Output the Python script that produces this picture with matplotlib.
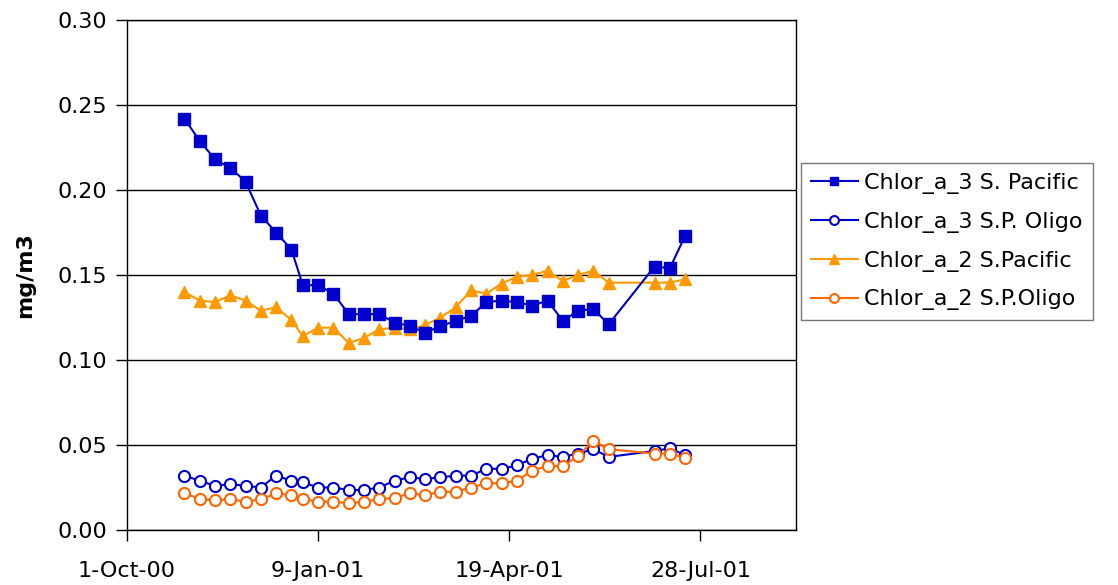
import numpy as np
import matplotlib
matplotlib.use("Agg")
import matplotlib.pyplot as plt
from datetime import datetime

# 8-day composite start dates
dates = ["2000-10-31", "2000-11-08", "2000-11-16", "2000-11-24", "2000-12-02",
         "2000-12-10", "2000-12-18", "2000-12-26", "2001-01-01", "2001-01-09",
         "2001-01-17", "2001-01-25", "2001-02-02", "2001-02-10", "2001-02-18",
         "2001-02-26", "2001-03-06", "2001-03-14", "2001-03-22", "2001-03-30",
         "2001-04-07", "2001-04-15", "2001-04-23", "2001-05-01", "2001-05-09",
         "2001-05-17", "2001-05-25", "2001-06-02", "2001-06-10", "2001-07-04",
         "2001-07-12", "2001-07-20"]

chl3_sp = [0.242, 0.229, 0.218, 0.213, 0.205, 0.185, 0.175, 0.165, 0.144, 0.144,
           0.139, 0.127, 0.127, 0.127, 0.122, 0.120, 0.116, 0.120, 0.123, 0.126,
           0.134, 0.135, 0.134, 0.132, 0.135, 0.123, 0.129, 0.130, 0.121, 0.155,
           0.154, 0.173]
chl3_oligo = [0.032, 0.029, 0.026, 0.027, 0.026, 0.025, 0.032, 0.029, 0.028, 0.025,
              0.025, 0.0235, 0.0235, 0.025, 0.029, 0.031, 0.030, 0.031, 0.032, 0.032,
              0.036, 0.036, 0.038, 0.042, 0.044, 0.043, 0.045, 0.0475, 0.043, 0.0465,
              0.048, 0.044]
chl2_sp = [0.140, 0.135, 0.134, 0.138, 0.135, 0.129, 0.131, 0.1235, 0.114, 0.119,
           0.119, 0.110, 0.113, 0.118, 0.119, 0.118, 0.1205, 0.125, 0.131, 0.141,
           0.139, 0.145, 0.149, 0.150, 0.1525, 0.1465, 0.150, 0.1525, 0.1455, 0.1455,
           0.1455, 0.1475]
chl2_oligo = [0.0215, 0.0185, 0.0175, 0.018, 0.0167, 0.018, 0.0215, 0.0205, 0.018, 0.0167,
              0.0167, 0.0157, 0.0167, 0.018, 0.019, 0.0215, 0.0205, 0.0225, 0.0225, 0.025,
              0.0275, 0.0275, 0.029, 0.035, 0.0376, 0.0376, 0.0435, 0.0525, 0.0475, 0.045,
              0.045, 0.0425]

tick_dates = ["2000-10-01", "2001-01-09", "2001-04-19", "2001-07-28"]
tick_labels = ["1-Oct-00", "9-Jan-01", "19-Apr-01", "28-Jul-01"]

x = [datetime.strptime(d, "%Y-%m-%d") for d in dates]
xt = [datetime.strptime(d, "%Y-%m-%d") for d in tick_dates]

plt.rcParams['font.family'] = ['DejaVu Sans']

fig = plt.figure(figsize=(11.18, 5.85), dpi=100)
ax = fig.add_axes([127/1118, 1 - 530/585, (796 - 127)/1118, (530 - 20)/585])

blue = "#0000CC"
amber = "#FF9900"
orange = "#FF6600"

ax.plot(x, chl3_sp, color=blue, lw=1.5, marker='s', ms=8, mfc=blue, mec=blue,
        label="Chlor_a_3 S. Pacific", zorder=4)
ax.plot(x, chl3_oligo, color=blue, lw=1.5, marker='o', ms=8, mfc='white', mec=blue,
        mew=1.5, label="Chlor_a_3 S.P. Oligo", zorder=3)
ax.plot(x, chl2_sp, color=amber, lw=1.5, marker='^', ms=9, mfc=amber, mec=amber,
        label="Chlor_a_2 S.Pacific", zorder=3)
ax.plot(x, chl2_oligo, color=orange, lw=1.5, marker='o', ms=8, mfc='white', mec=orange,
        mew=1.5, label="Chlor_a_2 S.P.Oligo", zorder=3)

ax.set_xlim(datetime(2000, 10, 1), datetime(2001, 9, 16))
ax.set_ylim(0, 0.30)
ax.set_yticks(np.arange(0, 0.301, 0.05))
ax.set_yticklabels(["%.2f" % v for v in np.arange(0, 0.301, 0.05)])
ax.set_xticks(xt)
ax.set_xticklabels(tick_labels)
ax.yaxis.grid(True, color='black', lw=1)
ax.set_axisbelow(True)
ax.tick_params(axis='both', labelsize=16, length=8, width=1, direction='out')
ax.tick_params(axis='y', pad=6)
ax.tick_params(axis='x', pad=14)
for s in ax.spines.values():
    s.set_color('black')
    s.set_linewidth(1)

ax.set_ylabel("mg/m3", fontsize=16, fontweight='bold', labelpad=16)

leg = fig.legend(loc='upper left', bbox_to_anchor=(801/1118, 1 - 163/585),
                 fontsize=16, frameon=True, fancybox=False, borderaxespad=0,
                 handlelength=2.1, labelspacing=0.8, borderpad=0.45, handletextpad=0.3,
                 markerscale=0.8)
leg.get_frame().set_edgecolor('#555555')
leg.get_frame().set_linewidth(1)

fig.savefig("out.png", dpi=100)
